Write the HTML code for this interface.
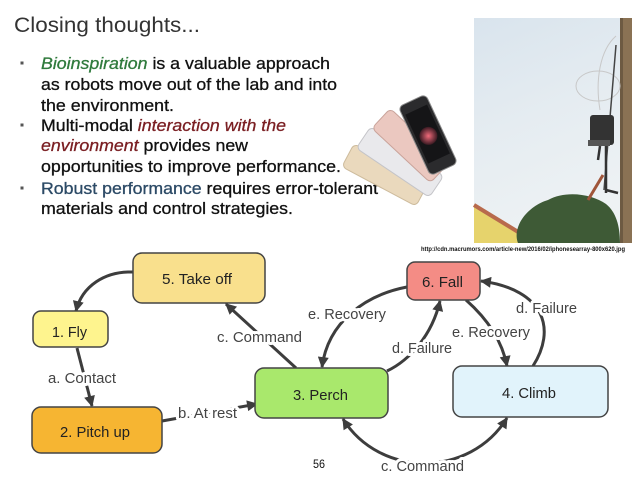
<!DOCTYPE html>
<html><head><meta charset="utf-8"><style>
html,body{margin:0;padding:0;background:#fff;}
svg{display:block;}
text{font-family:"Liberation Sans",Arial,sans-serif;}
.bl{font-size:17px;fill:#111;stroke:#111;stroke-width:0.3px;}
.nl{font-size:15px;fill:#222;}
.el{font-size:14.5px;fill:#444;stroke:#fff;stroke-width:6px;paint-order:stroke;stroke-linejoin:round;}
.e{fill:none;stroke:#3d3d3d;stroke-width:3;marker-end:url(#ar);}
.n{stroke:#444;stroke-width:1.5;}
</style></head><body>
<svg width="640" height="480" viewBox="0 0 640 480" xmlns="http://www.w3.org/2000/svg">
<defs>
<marker id="ar" viewBox="0 0 10 10" refX="9" refY="5" markerWidth="13" markerHeight="11" markerUnits="userSpaceOnUse" orient="auto"><path d="M0,0 L10,5 L0,10 z" fill="#3d3d3d"/></marker>
<marker id="as" viewBox="0 0 10 10" refX="1" refY="5" markerWidth="13" markerHeight="11" markerUnits="userSpaceOnUse" orient="auto"><path d="M10,0 L0,5 L10,10 z" fill="#3d3d3d"/></marker>
<linearGradient id="sky" x1="0" y1="0" x2="0.3" y2="1"><stop offset="0" stop-color="#d9e4ed"/><stop offset="0.5" stop-color="#e5ecf1"/><stop offset="1" stop-color="#eef2f4"/></linearGradient>
<radialGradient id="burst"><stop offset="0" stop-color="#f06a7a"/><stop offset="1" stop-color="#3a1a22"/></radialGradient>
</defs>

<!-- Title -->
<text x="14" y="32" font-size="21" fill="#333" textLength="186" lengthAdjust="spacingAndGlyphs">Closing thoughts...</text>

<!-- bullets -->
<rect x="20.5" y="61.5" width="3" height="3" fill="#555"/>
<rect x="20.5" y="123.5" width="3" height="3" fill="#555"/>
<rect x="20.5" y="186.5" width="3" height="3" fill="#555"/>
<text class="bl" x="41" y="69" textLength="289" lengthAdjust="spacingAndGlyphs"><tspan font-style="italic" fill="#2f7a3c" stroke="#2f7a3c">Bioinspiration</tspan> is a valuable approach</text>
<text class="bl" x="41" y="90" textLength="296" lengthAdjust="spacingAndGlyphs">as robots move out of the lab and into</text>
<text class="bl" x="41" y="111" textLength="133" lengthAdjust="spacingAndGlyphs">the environment.</text>
<text class="bl" x="41" y="131" textLength="245" lengthAdjust="spacingAndGlyphs">Multi-modal <tspan font-style="italic" fill="#7a1e22" stroke="#7a1e22">interaction with the</tspan></text>
<text class="bl" x="41" y="151" textLength="207" lengthAdjust="spacingAndGlyphs"><tspan font-style="italic" fill="#7a1e22" stroke="#7a1e22">environment</tspan> provides new</text>
<text class="bl" x="41" y="172" textLength="300" lengthAdjust="spacingAndGlyphs">opportunities to improve performance.</text>
<text class="bl" x="41" y="194" textLength="337" lengthAdjust="spacingAndGlyphs"><tspan fill="#2c4a66" stroke="#2c4a66">Robust performance</tspan> requires error-tolerant</text>
<text class="bl" x="41" y="214" textLength="252" lengthAdjust="spacingAndGlyphs">materials and control strategies.</text>

<!-- phones -->
<g transform="rotate(-62 385 175)"><rect x="372" y="133" width="26" height="84" rx="5" fill="#ead9bd" stroke="#cdbb9c"/></g>
<g transform="rotate(-56 400 162)"><rect x="387" y="118" width="26" height="88" rx="5" fill="#e9e9ec" stroke="#c4c4c8"/></g>
<g transform="rotate(-47 410 146)"><rect x="397" y="106" width="27" height="80" rx="5" fill="#ebc8c0" stroke="#c9a39a"/></g>
<g transform="rotate(-25 428 135)"><rect x="413" y="97" width="30" height="76" rx="5" fill="#2b2b2d" stroke="#8a8a8a"/><rect x="416" y="107" width="24" height="54" fill="#151517"/><circle cx="428" cy="136" r="9" fill="url(#burst)"/></g>

<!-- photo -->
<rect x="474" y="18" width="158" height="225" fill="url(#sky)"/>
<path d="M474,205 L530,238 L530,243 L474,243 Z" fill="#e6d36c"/>
<path d="M474,205 L528,238" stroke="#b86a4c" stroke-width="4"/>
<path d="M518,243 C512,226 528,206 548,200 C566,190 592,194 606,204 C616,212 620,226 620,243 Z" fill="#3e5a36"/>
<rect x="620" y="18" width="12" height="225" fill="#8a7254"/>
<rect x="620" y="18" width="3" height="225" fill="#6d5a42"/>
<ellipse cx="598" cy="86" rx="22" ry="15" fill="none" stroke="#c8c8c8" stroke-width="1"/>
<path d="M616,36 C600,50 595,80 600,110" fill="none" stroke="#c8c8c8" stroke-width="1"/>
<path d="M616,45 L604,190" stroke="#444" stroke-width="1.5"/>
<rect x="590" y="115" width="24" height="30" rx="3" fill="#333"/>
<rect x="588" y="140" width="22" height="6" fill="#555"/>
<path d="M600,146 L598,160 M606,146 L606,193 M606,190 L618,193" stroke="#333" stroke-width="2.5" fill="none"/>
<path d="M603,175 L588,200" stroke="#a0553a" stroke-width="3"/>
<text x="421" y="251" font-size="6" font-weight="bold" fill="#111" textLength="204" lengthAdjust="spacingAndGlyphs">http://cdn.macrumors.com/article-new/2016/02/iphonesearray-800x620.jpg</text>

<!-- edges -->
<path class="e" d="M133,272 C105,271 82,286 76,311"/>
<path class="e" d="M77,348 L92,406"/>
<path class="e" d="M162,421 L257,404"/>
<path class="e" d="M296,368 L226,304"/>
<path class="e" d="M407,287 C365,295 328,322 322,367"/>
<path class="e" d="M387,371 C410,360 432,335 440,301"/>
<path class="e" d="M466,300 Q500,330 507,366"/>
<path class="e" d="M533,366 C556,330 546,290 481,281"/>
<path class="e" style="marker-start:url(#as)" d="M343,419 C380,478 470,478 507,418"/>

<!-- nodes -->
<rect class="n" x="133" y="253" width="132" height="50" rx="9" fill="#f9e08d"/>
<rect class="n" x="33" y="311" width="75" height="36" rx="8" fill="#fef48e"/>
<rect class="n" x="32" y="407" width="130" height="46" rx="9" fill="#f6b532"/>
<rect class="n" x="255" y="368" width="133" height="50" rx="9" fill="#a9e86c"/>
<rect class="n" x="453" y="366" width="155" height="51" rx="9" fill="#e1f3fb"/>
<rect class="n" x="407" y="262" width="73" height="38" rx="8" fill="#f48c85"/>

<text class="nl" x="162" y="284" textLength="70" lengthAdjust="spacingAndGlyphs">5. Take off</text>
<text class="nl" x="52" y="337" textLength="35" lengthAdjust="spacingAndGlyphs">1. Fly</text>
<text class="nl" x="60" y="437" textLength="70" lengthAdjust="spacingAndGlyphs">2. Pitch up</text>
<text class="nl" x="293" y="400" textLength="55" lengthAdjust="spacingAndGlyphs">3. Perch</text>
<text class="nl" x="502" y="398" textLength="54" lengthAdjust="spacingAndGlyphs">4. Climb</text>
<text class="nl" x="422" y="287" textLength="41" lengthAdjust="spacingAndGlyphs">6. Fall</text>

<!-- edge labels -->
<text class="el" x="48" y="383" textLength="68" lengthAdjust="spacingAndGlyphs">a. Contact</text>
<text class="el" x="178" y="418" textLength="59" lengthAdjust="spacingAndGlyphs">b. At rest</text>
<text class="el" x="217" y="342" textLength="85" lengthAdjust="spacingAndGlyphs">c. Command</text>
<text class="el" x="308" y="319" textLength="78" lengthAdjust="spacingAndGlyphs">e. Recovery</text>
<text class="el" x="392" y="353" textLength="60" lengthAdjust="spacingAndGlyphs">d. Failure</text>
<text class="el" x="452" y="337" textLength="78" lengthAdjust="spacingAndGlyphs">e. Recovery</text>
<text class="el" x="516" y="313" textLength="61" lengthAdjust="spacingAndGlyphs">d. Failure</text>
<text class="el" x="381" y="471" textLength="83" lengthAdjust="spacingAndGlyphs">c. Command</text>

<text x="313" y="468" font-size="12" fill="#111" textLength="12" lengthAdjust="spacingAndGlyphs">56</text>
</svg>
</body></html>
